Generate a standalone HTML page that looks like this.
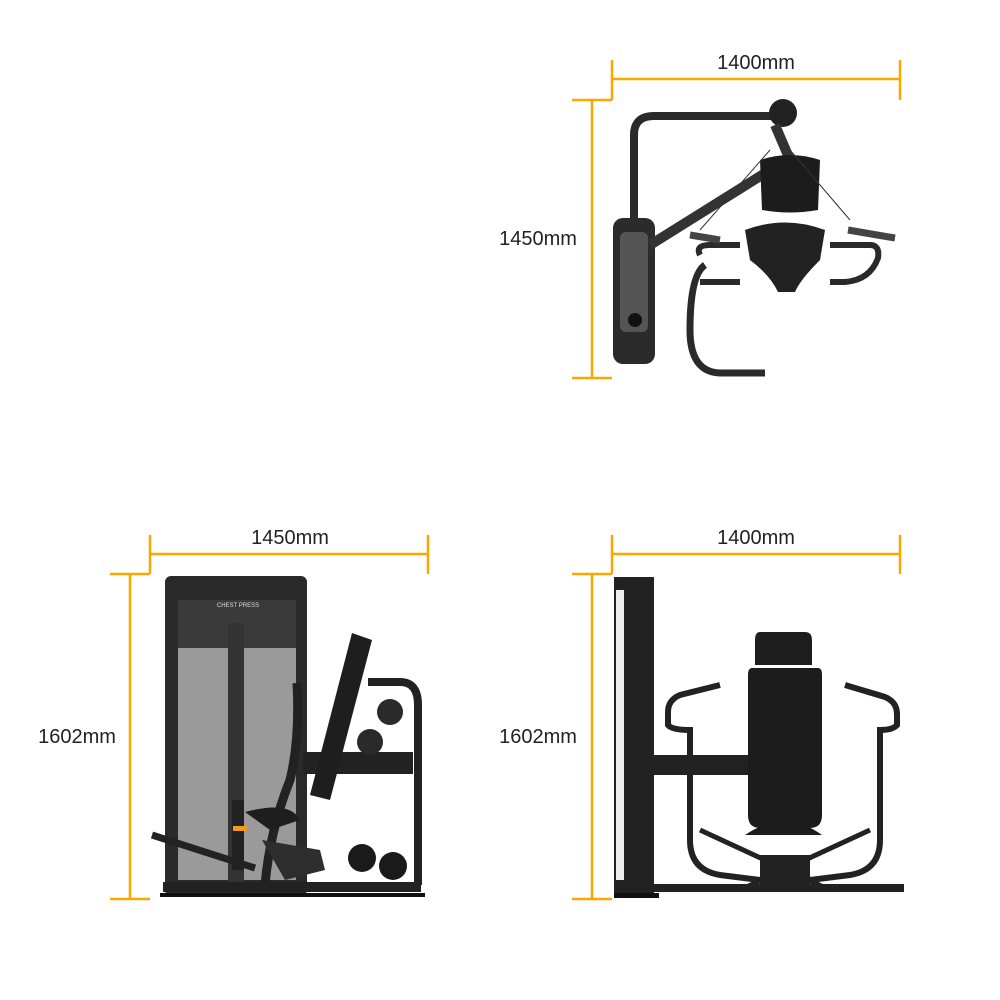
<!DOCTYPE html>
<html><head><meta charset="utf-8"><style>
html,body{margin:0;padding:0;background:#fff;}
svg{display:block}
text{font-family:"Liberation Sans",sans-serif;font-size:20px;fill:#222;}
</style></head><body>
<svg width="1000" height="1000" viewBox="0 0 1000 1000" xmlns="http://www.w3.org/2000/svg">
<g stroke="#f9a800" stroke-width="2.5" fill="none">
<!-- top view dims -->
<line x1="612" y1="79" x2="900" y2="79"/><line x1="612" y1="60" x2="612" y2="100"/><line x1="900" y1="60" x2="900" y2="100"/>
<line x1="592" y1="100" x2="592" y2="378"/><line x1="572" y1="100" x2="612" y2="100"/><line x1="572" y1="378" x2="612" y2="378"/>
<!-- bottom left -->
<line x1="150" y1="554" x2="428" y2="554"/><line x1="150" y1="535" x2="150" y2="574"/><line x1="428" y1="535" x2="428" y2="574"/>
<line x1="130" y1="574" x2="130" y2="899"/><line x1="110" y1="574" x2="150" y2="574"/><line x1="110" y1="899" x2="150" y2="899"/>
<!-- bottom right -->
<line x1="612" y1="554" x2="900" y2="554"/><line x1="612" y1="535" x2="612" y2="574"/><line x1="900" y1="535" x2="900" y2="574"/>
<line x1="592" y1="574" x2="592" y2="899"/><line x1="572" y1="574" x2="612" y2="574"/><line x1="572" y1="899" x2="612" y2="899"/>
</g>
<text x="756" y="69" text-anchor="middle">1400mm</text>
<text x="538" y="245" text-anchor="middle">1450mm</text>
<text x="290" y="544" text-anchor="middle">1450mm</text>
<text x="77" y="743" text-anchor="middle">1602mm</text>
<text x="756" y="544" text-anchor="middle">1400mm</text>
<text x="538" y="743" text-anchor="middle">1602mm</text>

<!-- TOP VIEW -->
<g>
<path d="M634 222 V135 Q634 116 654 116 H780" stroke="#2a2a2a" stroke-width="8" fill="none" stroke-linecap="round"/>
<rect x="613" y="218" width="42" height="146" rx="10" fill="#2b2b2b"/>
<rect x="620" y="232" width="28" height="100" rx="6" fill="#555"/>
<circle cx="635" cy="320" r="7" fill="#111"/>
<path d="M650 245 L770 170" stroke="#333" stroke-width="10"/>
<circle cx="783" cy="113" r="14" fill="#222"/>
<path d="M775 125 L790 160" stroke="#333" stroke-width="10"/>
<path d="M760 160 Q790 150 820 160 L818 210 Q790 215 762 210 Z" fill="#1c1c1c"/>
<path d="M745 230 Q785 215 825 230 L820 260 Q800 280 795 292 L778 292 Q770 275 750 260 Z" fill="#222"/>
<path d="M700 255 Q695 245 710 245 H740 M830 245 H870 Q880 245 878 258 Q870 280 845 282 L830 282 M740 282 H700" stroke="#2a2a2a" stroke-width="6" fill="none"/>
<path d="M705 265 Q690 275 690 330 Q690 372 720 373 H765" stroke="#2a2a2a" stroke-width="7" fill="none"/>
<path d="M720 240 L690 235 M848 230 L895 238" stroke="#444" stroke-width="7"/>
<line x1="700" y1="230" x2="770" y2="150" stroke="#333" stroke-width="1"/>
<line x1="850" y1="220" x2="790" y2="150" stroke="#333" stroke-width="1"/>
</g>

<!-- BOTTOM LEFT (side) -->
<g>
<rect x="165" y="576" width="142" height="320" rx="6" fill="#2a2a2a"/>
<rect x="178" y="600" width="118" height="48" fill="#3a3a3a"/>
<rect x="178" y="648" width="118" height="232" fill="#9a9a9a"/>
<rect x="228" y="623" width="16" height="260" fill="#333"/>
<rect x="232" y="800" width="12" height="70" fill="#222"/>
<rect x="233" y="826" width="14" height="5" fill="#f39a1a"/>
<text x="238" y="607" text-anchor="middle" style="font-size:6px;fill:#ddd">CHEST PRESS</text>
<rect x="303" y="752" width="110" height="22" fill="#222"/>
<path d="M368 682 H400 Q418 682 418 705 V885" stroke="#222" stroke-width="8" fill="none"/>
<path d="M352 633 L372 640 L330 800 L310 795 Z" fill="#1e1e1e"/>
<circle cx="390" cy="712" r="13" fill="#2a2a2a"/><circle cx="370" cy="742" r="13" fill="#2a2a2a"/>
<circle cx="362" cy="858" r="14" fill="#1a1a1a"/><circle cx="393" cy="866" r="14" fill="#1a1a1a"/>
<path d="M297 683 Q300 740 290 780 Q270 830 265 885" stroke="#222" stroke-width="9" fill="none"/>
<path d="M152 835 L255 868" stroke="#222" stroke-width="7"/>
<path d="M262 840 L320 850 L325 870 L285 880 Z" fill="#2e2e2e"/>
<path d="M245 812 Q290 800 300 820 L270 830 Z" fill="#1e1e1e"/>
<rect x="163" y="882" width="258" height="10" fill="#222"/>
<rect x="160" y="893" width="265" height="4" fill="#111"/>
</g>

<!-- BOTTOM RIGHT (front) -->
<g>
<rect x="614" y="577" width="40" height="320" fill="#222"/>
<rect x="616" y="590" width="8" height="290" fill="#eee"/>
<rect x="654" y="755" width="95" height="20" fill="#222"/>
<path d="M760 632 H805 Q812 632 812 640 V665 H755 V640 Q755 632 760 632 Z" fill="#1e1e1e"/>
<path d="M752 668 H818 Q822 668 822 675 V815 Q822 828 810 828 H760 Q748 828 748 815 V675 Q748 668 752 668 Z" fill="#1c1c1c"/>
<path d="M745 835 Q785 808 822 835 Z" fill="#1c1c1c"/>
<path d="M720 685 L680 695 Q668 700 668 712 V725 Q672 730 690 730 V840 Q690 870 720 875 L760 880" stroke="#222" stroke-width="6" fill="none"/>
<path d="M845 685 L885 697 Q897 702 897 714 V725 Q893 730 880 730 V840 Q880 870 850 875 L810 880" stroke="#222" stroke-width="6" fill="none"/>
<path d="M700 830 L830 890 M870 830 L740 890" stroke="#222" stroke-width="5"/>
<rect x="760" y="855" width="50" height="30" fill="#222"/>
<rect x="654" y="884" width="250" height="8" fill="#222"/>
<rect x="614" y="893" width="45" height="5" fill="#111"/>
</g>
</svg>
</body></html>
